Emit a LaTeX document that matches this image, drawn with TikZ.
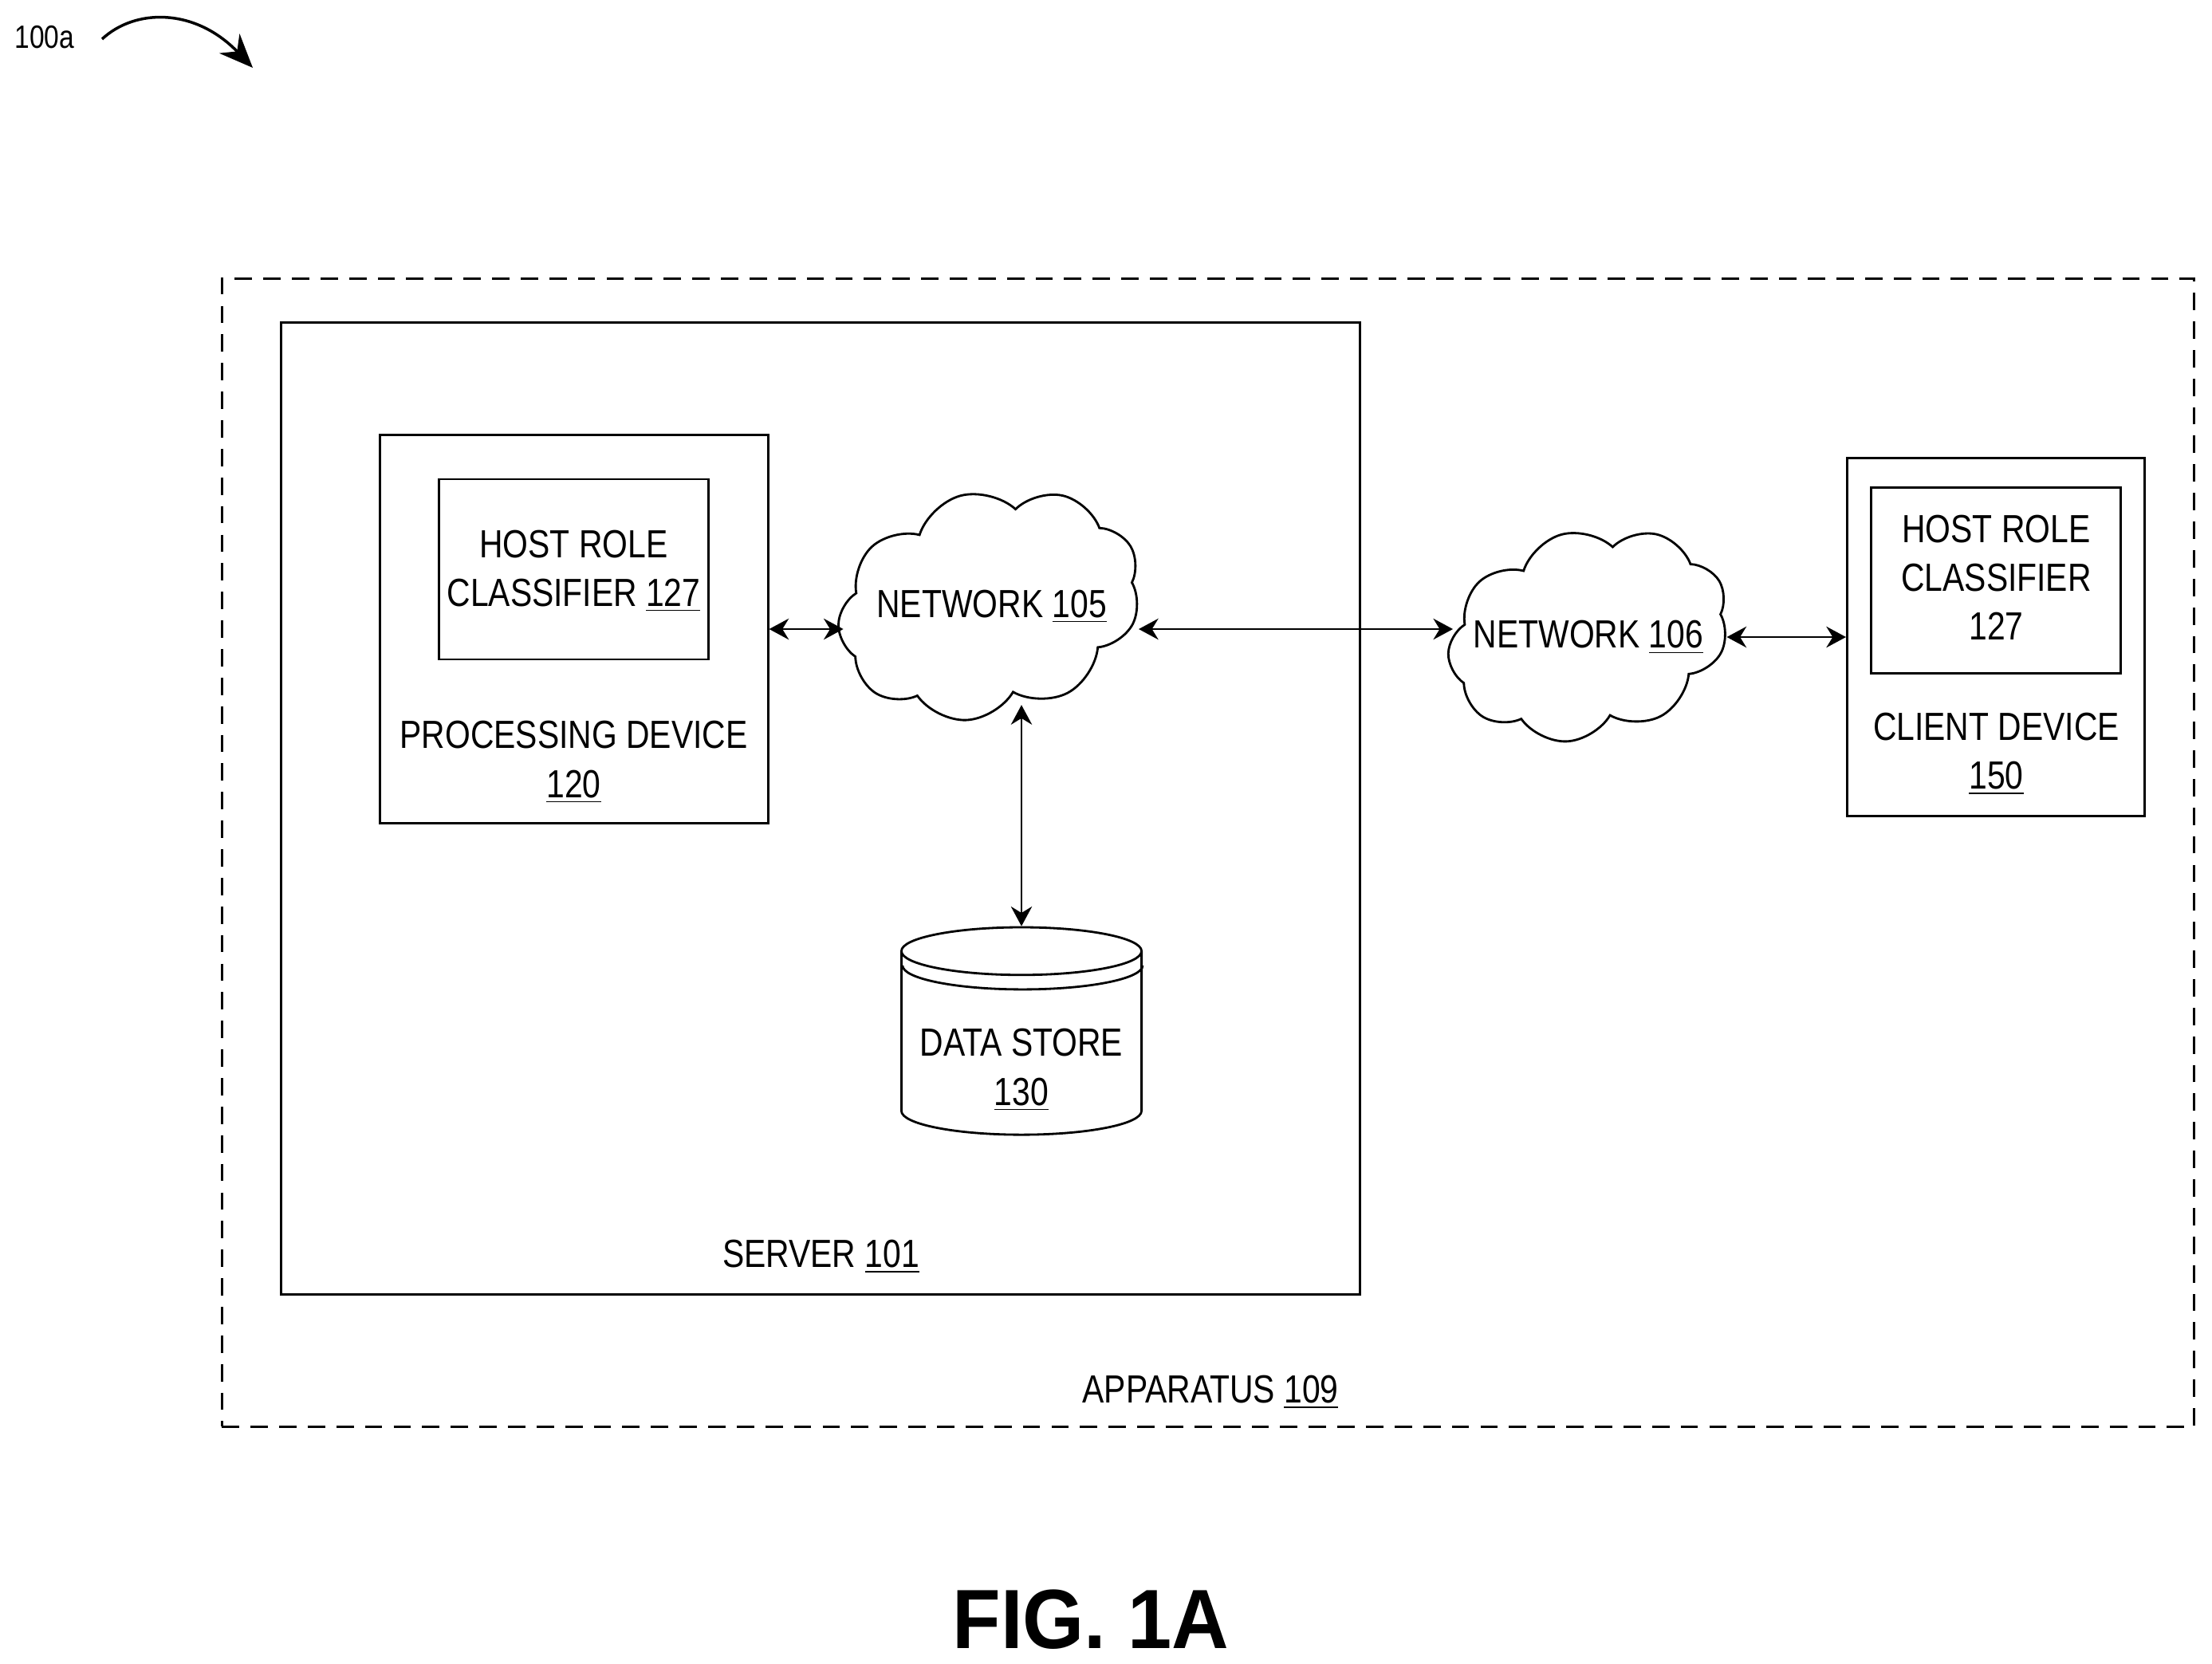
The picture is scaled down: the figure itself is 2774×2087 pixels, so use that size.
\documentclass[tikz,border=0pt]{standalone}
\usepackage{fontspec}
\setmainfont[FakeStretch=0.83]{Liberation Sans}
\newfontfamily\figfont[FakeStretch=0.94]{Liberation Sans}
\usetikzlibrary{arrows.meta,shapes.geometric,shapes.symbols}

\begin{document}
\begin{tikzpicture}[x=0.01cm,y=-0.01cm,
		box/.style={draw,line width=0.8pt,inner sep=0pt},
		boxtext/.style={align=center,inner sep=0pt,font=\fontsize{14}{17.4}\selectfont},
		netcloud/.style={draw,line width=0.8pt,cloud,cloud puffs=9,cloud puff arc=115,aspect=1.3,rotate=15,inner sep=0pt},
		link/.style={line width=0.8pt,{Stealth[length=7pt,width=7.5pt]}-{Stealth[length=7pt,width=7.5pt]}}]
		
		\useasboundingbox (0,0) rectangle (2774,2087);
		
		%boxes
		\node[box,dash pattern=on 6.2pt off 4pt,minimum width=24.72cm,minimum height=14.39cm] (apparatus) at (1515,1069.5) {};
		
		\foreach \name/\mx/\my/\w/\h in {server/1029/1014/13.515/12.18, proc/720/789/4.86/4.86, hostrole/719.5/714/3.37/2.26, client/2503/799/3.73/4.49, hostroleb/2503/728/3.13/2.33}
		\node[box,minimum width=\w cm,minimum height=\h cm] (\name) at (\mx,\my) {};
		
		%clouds
		\node[netcloud,minimum width=3.85cm,minimum height=2.82cm] (net105) at (1241,758) {};
		\node[netcloud,minimum width=3.57cm,minimum height=2.6cm] (net106) at (1992,796) {};
		
		%data store
		\node[draw,line width=0.8pt,cylinder,shape border rotate=90,shape aspect=2.55,minimum width=3.01cm,minimum height=2.6cm] (store) at (1281,1314.5) {};
		\draw[line width=0.8pt] ([yshift=-0.18cm]store.after top) arc[start angle=0,end angle=-180,x radius=1.505cm,y radius=0.3cm];
		
		%texts
		\foreach \name/\mx/\my/\text in {
			net105text/1243.6/760.6/{NETWORK \underline{105}},
			net106text/1992/799.5/{NETWORK \underline{106}},
			hostroletext/719.5/716/{HOST ROLE\\CLASSIFIER \underline{127}},
			proctext/719.5/956/{PROCESSING DEVICE\\\underline{120}},
			hostrolebtext/2503.5/724/{HOST ROLE\\CLASSIFIER\\127},
			clienttext/2503.5/945.5/{CLIENT DEVICE\\\underline{150}},
			storetext/1281/1342/{DATA STORE\\\underline{130}},
			servertext/1029.5/1576/{SERVER \underline{101}},
			apparatustext/1518/1746/{APPARATUS \underline{109}}}
		\node[boxtext] (\name) at (\mx,\my) {\text};
		
		\node[font=\fontsize{11.5}{14}\selectfont,inner sep=0pt] (figref) at (56,47) {100a};
		\node[font=\figfont\fontsize{30}{36}\selectfont\bfseries,inner sep=0pt] (figtitle) at (1368,2031) {FIG. 1A};
		
		%arrows
		\draw[link] (proc.east) -- (proc.east -| net105.165);
		\draw[link] (net105.-15 |- proc.east) -- (net106.165 |- proc.east);
		\draw[link] (net106.-15 |- client.west) -- (client.west);
		\draw[link] (store.north) -- ([yshift=-0.09cm]store.north |- net105.-85);
		
		\coordinate (refstart) at (128,49);
		\coordinate (refend) at (317,85);
		\draw[line width=1pt,-{Stealth[length=12pt,width=10pt]}] (refstart) .. controls (170,10) and (245,10) .. (refend);
		
\end{tikzpicture}
\end{document}
